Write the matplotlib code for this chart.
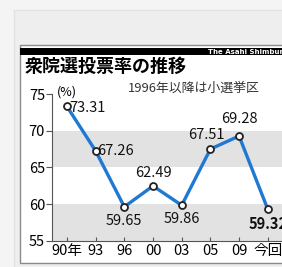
import matplotlib
matplotlib.use('Agg')
import matplotlib.pyplot as plt
from matplotlib.patches import Rectangle

years = ['90年', '93', '96', '00', '03', '05', '09', '今回']
turnout = [73.31, 67.26, 59.65, 62.49, 59.86, 67.51, 69.28, 59.32]
# label offsets in points (dx, dy) and alignment
label_pos = [(2, -1, 'left', 'center'), (1, 0, 'left', 'center'),
             (0, -5, 'center', 'top'), (0, 4, 'center', 'bottom'),
             (0, -5, 'center', 'top'), (-3, 5, 'center', 'bottom'),
             (0, 7, 'center', 'bottom'), (0, -5, 'center', 'top')]

plt.rcParams['font.family'] = ['Liberation Sans Narrow', 'Noto Sans CJK JP', 'DejaVu Sans']

W, H = 282, 267
fig = plt.figure(figsize=(W / 100, H / 100), dpi=100)
fig.patch.set_facecolor('#f4f4f4')

bg = fig.add_axes([0, 0, 1, 1], zorder=0)
bg.set_axis_off()
bg.set_xlim(0, W)
bg.set_ylim(H, 0)
bg.add_patch(Rectangle((14, 10), 300, 300, facecolor='#efeeee', edgecolor='#e2e2e2', lw=1))
bg.add_patch(Rectangle((20, 45), 300, 218, facecolor='white', edgecolor='#8a8a8a', lw=1))
bg.add_patch(Rectangle((20, 48), 300, 7, facecolor='black', edgecolor='none'))
bg.text(284, 51.5, 'The Asahi Shimbun', color='white', fontsize=5, ha='right', va='center',
        fontweight='bold', family=['DejaVu Sans'])
bg.text(25, 66, '衆院選投票率の推移', fontsize=13, fontweight='bold', ha='left', va='center',
        family=['Noto Sans CJK JP'])
bg.text(128, 88, '1996年以降は小選挙区', fontsize=9.3, ha='left', va='center',
        color='#333333', family=['Noto Sans CJK JP'])

ax = fig.add_axes([52 / W, 26 / H, 233 / W, 147 / H], zorder=1)
ax.patch.set_alpha(0)
x = range(len(years))
ax.set_xlim(-0.52, 7.6)
ax.set_ylim(55, 75)
for lo, hi in [(55, 60), (65, 70)]:
    ax.axhspan(lo, hi, color='#e2e2e2', lw=0, zorder=0)

ax.plot(x, turnout, color='#1f78d2', lw=2.4, zorder=2, solid_joinstyle='miter')
ax.plot(x, turnout, ls='none', marker='o', ms=5, mfc='white', mec='#222222', mew=1.3, zorder=3)

for i, (v, (dx, dy, ha, va)) in enumerate(zip(turnout, label_pos)):
    ax.annotate(f'{v:.2f}', (i, v), xytext=(dx, dy), textcoords='offset points',
                ha=ha, va=va, fontsize=10.5, fontweight='bold' if i == len(turnout) - 1 else 'normal',
                color='#111111')

ax.set_xticks(list(x))
ax.set_xticklabels(years, fontsize=10.5)
ax.set_yticks([55, 60, 65, 70, 75])
ax.set_yticklabels(['55', '60', '65', '70', '75'], fontsize=10.5)
ax.tick_params(axis='x', direction='in', length=3, pad=2, color='#555555')
ax.tick_params(axis='y', direction='out', length=4, pad=1, color='#555555')
ax.text(0.02, 75.3, '(%)', fontsize=9, ha='left', va='center', transform=ax.get_yaxis_transform())
for s in ['top', 'right']:
    ax.spines[s].set_visible(False)
ax.spines['left'].set_color('#555555')
ax.spines['bottom'].set_color('#555555')

fig.savefig('out.png', dpi=100)
